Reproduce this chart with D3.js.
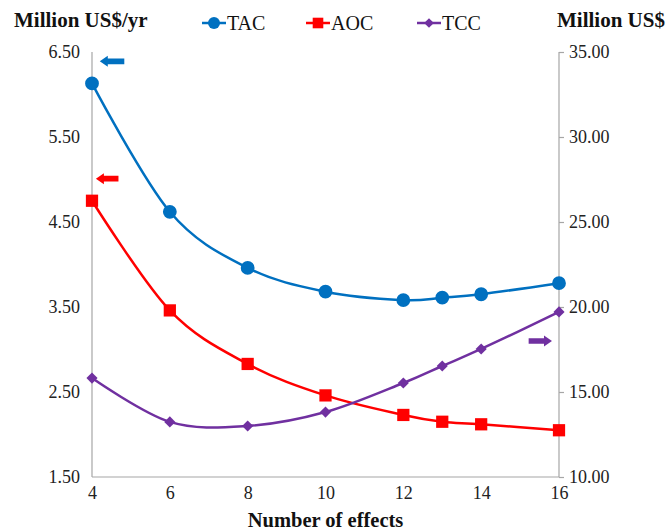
<!DOCTYPE html>
<html><head><meta charset="utf-8">
<script src="https://cdn.jsdelivr.net/npm/d3@7"></script>
<style>body{margin:0;background:#fff}svg{display:block}</style>
</head><body>
<svg id="c" width="668" height="530"></svg>
<script>
const effects = [4, 6, 8, 10, 12, 13, 14, 16];
const TAC = [6.13, 4.62, 3.96, 3.68, 3.58, 3.61, 3.65, 3.78];
const AOC = [4.75, 3.46, 2.83, 2.46, 2.23, 2.15, 2.12, 2.05];
const TCC = [15.82, 13.24, 13.0, 13.82, 15.53, 16.53, 17.53, 19.71];
const leftTicks = [1.5, 2.5, 3.5, 4.5, 5.5, 6.5];
const rightTicks = [10, 15, 20, 25, 30, 35];
const xTicks = [4, 6, 8, 10, 12, 14, 16];
const seriesNames = ["TAC", "AOC", "TCC"];
const seriesColors = ["#0070C0", "#FF0000", "#7030A0"];
// arrows: [x0, x1, y, axis, direction]
const arrows = [
  {x0: 4.2, x1: 4.83, y: 6.39, axis: "L", dir: "left", color: "#0070C0"},
  {x0: 4.1, x1: 4.68, y: 5.01, axis: "L", dir: "left", color: "#FF0000"},
  {x0: 15.22, x1: 15.82, y: 18.0, axis: "R", dir: "right", color: "#7030A0"}
];

const svg = d3.select("#c");
const m = {l: 92, r: 559, t: 52, b: 477};
const x = d3.scaleLinear().domain([4, 16]).range([m.l, m.r]);
const yL = d3.scaleLinear().domain([1.5, 6.5]).range([m.b, m.t]);
const yR = d3.scaleLinear().domain([10, 35]).range([m.b, m.t]);
const font = "'Liberation Serif','Times New Roman',serif";
const axisColor = "#a6a6a6";

// Axes
const gL = svg.append("g").attr("transform", `translate(${m.l},0)`)
  .call(d3.axisLeft(yL).tickValues(leftTicks).tickFormat(d3.format(".2f")).tickSize(0).tickPadding(12));
const gR = svg.append("g").attr("transform", `translate(${m.r},0)`)
  .call(d3.axisRight(yR).tickValues(rightTicks).tickFormat(d3.format(".2f")).tickSize(5).tickPadding(5));
const gB = svg.append("g").attr("transform", `translate(0,${m.b})`)
  .call(d3.axisBottom(x).tickValues(xTicks).tickFormat(d3.format("d")).tickSize(0).tickPadding(9));
[gL, gR, gB].forEach(g => {
  g.select(".domain").attr("stroke", axisColor).attr("stroke-width", 1.2);
  g.selectAll(".tick line").attr("stroke", axisColor).attr("stroke-width", 1.2);
  g.selectAll("text").attr("font-family", font).attr("font-size", 18).attr("fill", "#222");
});
gL.select(".domain").attr("d", `M0,${m.b}V${m.t}`);
gR.select(".domain").attr("d", `M0,${m.b}V${m.t}`);
gB.select(".domain").attr("d", `M${m.l},0H${m.r}`);

// Titles
svg.append("text").attr("x", 14).attr("y", 27).text("Million US$/yr")
  .attr("font-family", font).attr("font-weight", "bold").attr("font-size", 21).attr("fill", "#111");
svg.append("text").attr("x", 557).attr("y", 27).text("Million US$")
  .attr("font-family", font).attr("font-weight", "bold").attr("font-size", 21).attr("fill", "#111");
svg.append("text").attr("x", (m.l + m.r) / 2).attr("y", 527).attr("text-anchor", "middle").text("Number of effects")
  .attr("font-family", font).attr("font-weight", "bold").attr("font-size", 20.5).attr("fill", "#111");

// Series
const data = [TAC, AOC, TCC];
const scales = [yL, yL, yR];
const curve = d3.curveCatmullRom.alpha(0);
const symbols = [d3.symbolCircle, d3.symbolSquare, d3.symbolSquare];
const symSizes = [150, 150, 62];
const symRot = [0, 0, 45];
data.forEach((vals, i) => {
  const pts = effects.map((e, j) => [x(e), scales[i](vals[j])]);
  svg.append("path").attr("d", d3.line().curve(curve)(pts))
    .attr("fill", "none").attr("stroke", seriesColors[i]).attr("stroke-width", 2.5);
  svg.append("g").selectAll("path").data(pts).join("path")
    .attr("transform", d => `translate(${d[0]},${d[1]}) rotate(${symRot[i]})`)
    .attr("d", d3.symbol().type(symbols[i]).size(symSizes[i]))
    .attr("fill", seriesColors[i]);
});

// Legend
const legX = [202, 306, 417];
seriesNames.forEach((n, i) => {
  const g = svg.append("g").attr("transform", `translate(${legX[i]},23)`);
  g.append("line").attr("x1", 0).attr("x2", 24).attr("stroke", seriesColors[i]).attr("stroke-width", 2.5);
  g.append("path").attr("transform", `translate(12,0) rotate(${symRot[i]})`)
    .attr("d", d3.symbol().type(symbols[i]).size(symSizes[i] * 0.75)).attr("fill", seriesColors[i]);
  g.append("text").attr("x", 25).attr("y", 7).text(n)
    .attr("font-family", font).attr("font-size", 20).attr("fill", "#111");
});

// Arrows
arrows.forEach(a => {
  const ys = a.axis === "L" ? yL : yR;
  const x0 = x(a.x0), x1 = x(a.x1), yy = ys(a.y);
  const h = 9, sh = 2.8, hl = 8;
  let p;
  if (a.dir === "left") {
    p = `M${x0},${yy} L${x0 + hl},${yy - h / 2 - 1} L${x0 + hl},${yy - sh} L${x1},${yy - sh} L${x1},${yy + sh} L${x0 + hl},${yy + sh} L${x0 + hl},${yy + h / 2 + 1} Z`;
  } else {
    p = `M${x1},${yy} L${x1 - hl},${yy - h / 2 - 1} L${x1 - hl},${yy - sh} L${x0},${yy - sh} L${x0},${yy + sh} L${x1 - hl},${yy + sh} L${x1 - hl},${yy + h / 2 + 1} Z`;
  }
  svg.append("path").attr("d", p).attr("fill", a.color);
});
</script>
</body></html>
